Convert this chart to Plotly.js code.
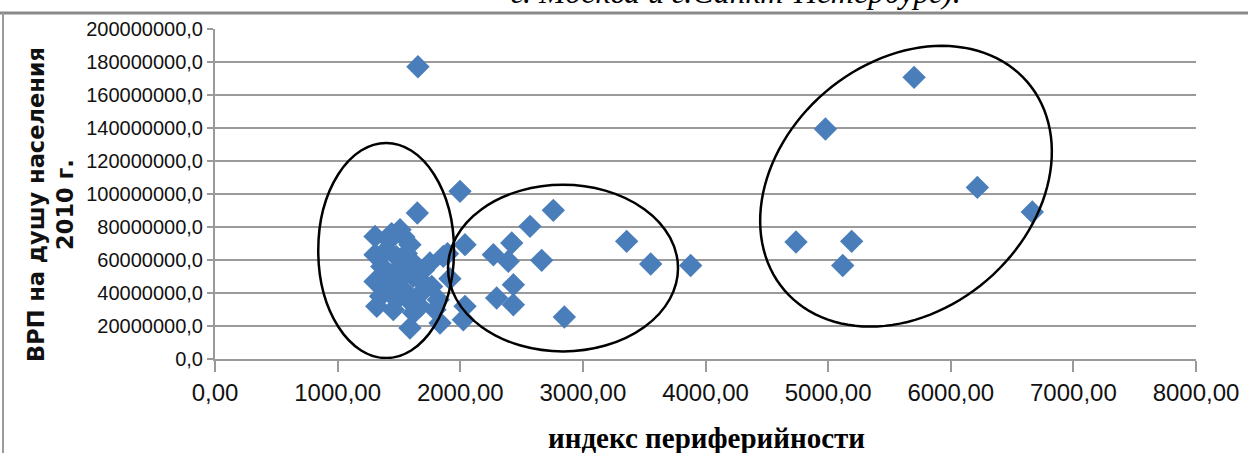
<!DOCTYPE html>
<html>
<head>
<meta charset="utf-8">
<script src="https://cdn.plot.ly/plotly-3.0.1.min.js"></script>
<style>html,body{margin:0;padding:0;background:#fff;}#chart{width:1248px;height:453px;}</style>
</head>
<body>
<div id="chart"></div>
<script>
// ---- data ----
const peripheryIndex = [
  1655, 1998, 1650, 2759, 2569, 3357, 3553, 3879, 2664, 2420, 2270, 2392, 2433, 2297, 2433, 2849,
  2039, 2039, 2025, 1896, 1916,
  5701, 4978, 6217, 6665, 4738, 5192, 5119,
  1305, 1509, 1420, 1590, 1305, 1400, 1480, 1560, 1753, 1862, 1305, 1400, 1509, 1617, 1767,
  1319, 1454, 1576, 1672, 1794, 1821, 1590, 1400, 1536, 1835, 1350, 1450, 1560, 1620, 1700,
  1480, 1680, 1360, 1440, 1540, 1700, 1620
];
const grpPerCapita2010 = [
  177.1e6, 101.6e6, 88.5e6, 90.1e6, 80.4e6, 71.3e6, 57.6e6, 56.7e6, 59.8e6, 70.3e6, 63.2e6, 59.2e6, 45.0e6, 37.0e6, 32.9e6, 25.5e6,
  69.3e6, 31.9e6, 23.8e6, 63.8e6, 48.7e6,
  170.7e6, 139.4e6, 104.0e6, 89.1e6, 70.9e6, 71.3e6, 56.7e6,
  74.3e6, 78.4e6, 72.0e6, 69.3e6, 63.2e6, 66.2e6, 62.0e6, 64.0e6, 58.2e6, 62.2e6, 47.0e6, 53.1e6, 56.1e6, 50.1e6, 44.0e6,
  31.9e6, 29.9e6, 35.9e6, 31.9e6, 29.9e6, 35.9e6, 18.8e6, 42.0e6, 42.0e6, 21.8e6, 38.0e6, 48.0e6, 52.0e6, 58.0e6, 46.0e6,
  36.0e6, 40.0e6, 56.0e6, 76.0e6, 74.0e6, 54.0e6, 28.0e6
];
const xTickVals = [0, 1000, 2000, 3000, 4000, 5000, 6000, 7000, 8000];
const xTickText = ["0,00", "1000,00", "2000,00", "3000,00", "4000,00", "5000,00", "6000,00", "7000,00", "8000,00"];
const yTickVals = [0, 20e6, 40e6, 60e6, 80e6, 100e6, 120e6, 140e6, 160e6, 180e6, 200e6];
const yTickText = ["0,0", "20000000,0", "40000000,0", "60000000,0", "80000000,0", "100000000,0",
                   "120000000,0", "140000000,0", "160000000,0", "180000000,0", "200000000,0"];
const xTitle = "индекс периферийности";
const yTitle = "ВРП на душу населения<br>2010 г.";
const captionAbove = "г. Москва и г.Санкт-Петербург).";

// ---- layout geometry ----
const W = 1248, H = 453;
const M = {l: 215, r: 52, t: 29, b: 94};
const plotW = W - M.l - M.r, plotH = H - M.t - M.b;
const xRange = [0, 8000], yRange = [0, 200e6];
const pxPerX = plotW / (xRange[1] - xRange[0]);
const pxPerY = plotH / (yRange[1] - yRange[0]);

// rotated ellipse (center in data units, semi-axes in pixels, angle in degrees)
function ellipsePath(cx, cy, aPx, bPx, deg) {
  const th = deg * Math.PI / 180;
  let d = "";
  const n = 120;
  for (let i = 0; i <= n; i++) {
    const t = 2 * Math.PI * i / n;
    const dx = aPx * Math.cos(t) * Math.cos(th) - bPx * Math.sin(t) * Math.sin(th);
    const dy = aPx * Math.cos(t) * Math.sin(th) + bPx * Math.sin(t) * Math.cos(th);
    const x = cx + dx / pxPerX, y = cy + dy / pxPerY;
    d += (i === 0 ? "M" : "L") + x.toFixed(2) + "," + y.toFixed(1);
  }
  return d + "Z";
}

const trace = {
  x: peripheryIndex,
  y: grpPerCapita2010,
  type: "scatter",
  mode: "markers",
  marker: {symbol: "diamond", size: 18, color: "#4a7ebb", line: {width: 0}},
  hoverinfo: "skip"
};

const greyLine = "#9a9a9a";
const layout = {
  width: W, height: H, autosize: false,
  margin: M,
  paper_bgcolor: "#ffffff",
  plot_bgcolor: "#ffffff",
  showlegend: false,
  xaxis: {
    range: xRange, tickvals: xTickVals, ticktext: xTickText,
    showgrid: false, zeroline: false,
    showline: true, linecolor: greyLine, linewidth: 2,
    ticks: "outside", ticklen: 11, tickwidth: 2, tickcolor: greyLine,
    tickfont: {family: "Liberation Sans, Arial, sans-serif", size: 24, color: "#111"},
    fixedrange: true
  },
  yaxis: {
    range: yRange, tickvals: yTickVals, ticktext: yTickText,
    showgrid: true, gridcolor: greyLine, gridwidth: 2, zeroline: false,
    showline: true, linecolor: greyLine, linewidth: 2,
    ticks: "outside", ticklen: 6, tickwidth: 2, tickcolor: greyLine,
    tickfont: {family: "Liberation Sans, Arial, sans-serif", size: 20, color: "#111"},
    fixedrange: true
  },
  shapes: [
    {type: "circle", xref: "x", yref: "y", x0: 842, x1: 1949, y0: 0.6e6, y1: 130.9e6,
     line: {color: "#000", width: 2.5}},
    {type: "circle", xref: "x", yref: "y", x0: 1900, x1: 3776, y0: 4.6e6, y1: 105.6e6,
     line: {color: "#000", width: 2.5}},
    {type: "path", xref: "x", yref: "y", path: ellipsePath(5635, 104.7e6, 160, 124, 40.6),
     line: {color: "#000", width: 2.5}},
    // outer chart frame (cropped)
    {type: "line", xref: "paper", yref: "paper", x0: -M.l / plotW, x1: (W - M.l) / plotW,
     y0: (plotH + M.t - 13) / plotH, y1: (plotH + M.t - 13) / plotH, line: {color: "#8a8a8a", width: 3}},
    {type: "line", xref: "paper", yref: "paper", x0: (3 - M.l) / plotW, x1: (3 - M.l) / plotW,
     y0: (plotH + M.t - 13) / plotH, y1: -M.b / plotH, line: {color: "#9a9a9a", width: 2}}
  ],
  annotations: [
    {text: xTitle, xref: "paper", yref: "paper", x: (706 - M.l) / plotW, y: -(438 - (M.t + plotH)) / plotH,
     xanchor: "center", yanchor: "middle", showarrow: false,
     font: {family: "Liberation Serif, Times New Roman, serif", size: 29, color: "#000", weight: "bold"}},
    {text: yTitle, xref: "paper", yref: "paper", x: (50 - M.l) / plotW, y: (M.t + plotH - 205) / plotH,
     xanchor: "center", yanchor: "middle", showarrow: false, textangle: -90,
     font: {family: "DejaVu Sans, Verdana, sans-serif", size: 22.5, color: "#111", weight: "bold"}},
    {text: captionAbove, xref: "paper", yref: "paper", x: (736 - M.l) / plotW, y: (M.t + plotH - 12) / plotH,
     xanchor: "center", yanchor: "bottom", showarrow: false,
     font: {family: "Liberation Serif, Times New Roman, serif", size: 32, color: "#000", style: "italic"}}
  ]
};

Plotly.newPlot("chart", [trace], layout, {staticPlot: true, displayModeBar: false});
</script>
</body>
</html>
